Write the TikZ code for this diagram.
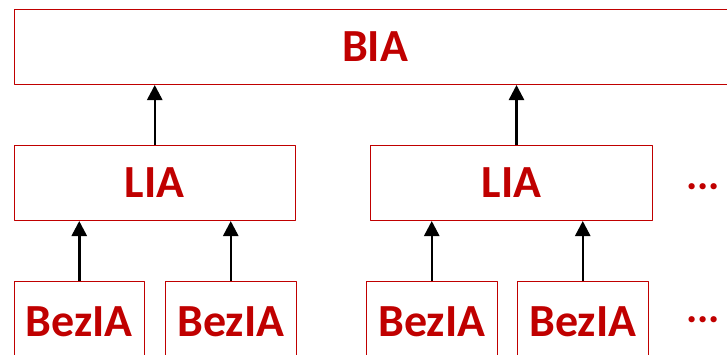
\documentclass[tikz,border=0pt]{standalone}
\usepackage{fontspec}
\setmainfont{Carlito}
\usetikzlibrary{arrows.meta}
\definecolor{boxred}{HTML}{C00000}
\begin{document}
\begin{tikzpicture}[x=1pt, y=-1pt, line join=round, >={Triangle[length=15pt,width=15pt]},
	box/.style={draw=boxred, line width=1pt, text=boxred, inner sep=0pt, anchor=north west,
		font=\bfseries\fontsize{46}{46}\selectfont},
	small/.style={box, minimum width=130.5pt, minimum height=80pt},
	dots/.style={text=boxred, inner sep=0pt, anchor=base, font=\bfseries\fontsize{42}{42}\selectfont},
	up/.style={->, line width=2.5pt}]
	\useasboundingbox (0,0) rectangle (727,354);
	% Ebenen
	\node[box, minimum width=722pt, minimum height=75pt] (bia) at (13.5,9) {BIA};
	\node[box, minimum width=281.5pt, minimum height=75pt] (lia1) at (13.5,145) {LIA};
	\node[box, minimum width=282pt, minimum height=75pt] (lia2) at (370,145) {LIA};
	\node[small] (bez1) at (13.5,281) {BezIA};
	\node[small] (bez2) at (165,281) {BezIA};
	\node[small] (bez3) at (366,281) {BezIA};
	\node[small] (bez4) at (517,281) {BezIA};
	\node[dots] (dots1) at (703,189.5) {...};
	\node[dots] (dots2) at (703,322.5) {...};
	% Pfeile
	\draw[up] (lia1.north) -- (lia1.north |- bia.south);
	\draw[up] ([xshift=5pt]lia2.north) -- ([xshift=5pt]lia2.north |- bia.south);
	\foreach \b/\l in {bez1/lia1, bez2/lia1, bez3/lia2, bez4/lia2}
		\draw[up] (\b.north) -- (\b.north |- \l.south);
\end{tikzpicture}
\end{document}
